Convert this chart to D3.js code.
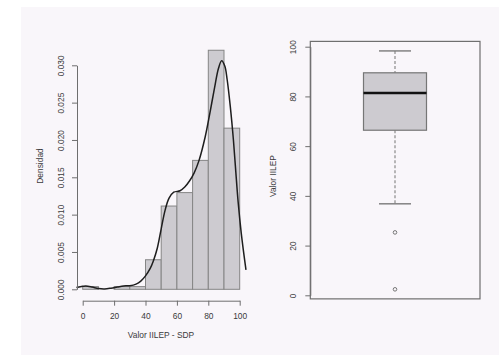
<!DOCTYPE html>
<html>
<head>
<meta charset="utf-8">
<script src="https://cdn.jsdelivr.net/npm/d3@7"></script>
<style>
  html, body { margin: 0; padding: 0; background: #ffffff; }
  svg { display: block; }
  text { font-family: "Liberation Sans", Arial, sans-serif; fill: #3a3a3a; }
</style>
</head>
<body>
<svg id="chart" width="499" height="355"></svg>
<script>
// Histogram: bin edges (width 10) and counts per bin
const binBreaks = [0, 10, 20, 30, 40, 50, 60, 70, 80, 90, 100];
const binCounts = [1, 0, 1, 1, 11, 31, 36, 48, 89, 60];

// Kernel density estimate, sampled along the value axis
const densityX = [-4, 0, 2, 6, 10, 14, 18, 22, 26, 30, 34, 37, 40, 43, 45, 47.5, 50, 52.5, 55, 58, 62, 65, 68, 71, 74, 78, 81, 84, 86.5, 88.5, 90.5, 92, 94, 96, 97.5, 99, 101, 104];
const densityY = [0.00025, 0.0004, 0.00045, 0.0003, 0.0001, 0.00005, 0.00015, 0.0003, 0.00045, 0.00048, 0.0007, 0.0011, 0.0018, 0.0028, 0.0038, 0.0055, 0.0081, 0.0106, 0.0122, 0.0130, 0.0132, 0.0137, 0.0145, 0.0156, 0.0172, 0.0204, 0.0236, 0.0270, 0.0296, 0.0306, 0.0299, 0.0281, 0.0245, 0.0200, 0.0158, 0.0117, 0.0075, 0.0026];

// Boxplot five-number summary and outliers
const boxStats = { lowerWhisker: 36.8, q1: 66.4, median: 81.4, q3: 89.5, upperWhisker: 98.3 };
const boxOutliers = [25.3, 2.4];

// Tick values
const histXTicks = [0, 20, 40, 60, 80, 100];
const histYTicks = [0, 0.005, 0.010, 0.015, 0.020, 0.025, 0.030];
const boxYTicks = [0, 20, 40, 60, 80, 100];

const svg = d3.select("#chart");
const lineCol = "#6e6e6e";
const fillCol = "#cdcbd0";
const fontSize = "8.4px";

// Plot background panel
svg.append("rect").attr("x", 21).attr("y", 7).attr("width", 478).attr("height", 348).attr("fill", "#f9f6fa");

// ---------- Left panel: histogram with density curve ----------
const hx = d3.scaleLinear().domain([0, 100]).range([82.7, 239.7]);
const hy = d3.scaleLinear().domain([0, 0.03]).range([289.3, 65.3]);
const total = d3.sum(binCounts);
const bins = binCounts.map((c, i) => ({
  x0: binBreaks[i], x1: binBreaks[i + 1],
  density: c / (total * (binBreaks[i + 1] - binBreaks[i]))
}));

svg.append("g").selectAll("rect").data(bins).join("rect")
  .attr("x", d => hx(d.x0))
  .attr("y", d => hy(d.density))
  .attr("width", d => hx(d.x1) - hx(d.x0))
  .attr("height", d => hy(0) - hy(d.density))
  .attr("fill", fillCol)
  .attr("stroke", "#858585")
  .attr("stroke-width", 1);

const densityLine = d3.line()
  .x((d, i) => hx(densityX[i]))
  .y(d => hy(d))
  .curve(d3.curveCatmullRom.alpha(0.5));
svg.append("path")
  .attr("d", densityLine(densityY))
  .attr("fill", "none")
  .attr("stroke", "#1e1e1e")
  .attr("stroke-width", 1.5);

// x axis
const hxAxis = svg.append("g").attr("transform", "translate(0,300.7)")
  .call(d3.axisBottom(hx).tickValues(histXTicks).tickSize(5).tickSizeOuter(0));
hxAxis.selectAll("text").attr("y", 18).attr("dy", 0).style("font-size", fontSize);

// y axis with rotated labels
const hyAxis = svg.append("g").attr("transform", "translate(77,0)")
  .call(d3.axisLeft(hy).tickValues(histYTicks).tickFormat(d3.format(".3f")).tickSize(5).tickSizeOuter(0));
hyAxis.selectAll("text")
  .attr("x", 0).attr("dy", 0)
  .attr("text-anchor", "middle")
  .attr("transform", "translate(-13,0) rotate(-90)")
  .style("font-size", fontSize);

svg.append("text").attr("x", 161).attr("y", 338).attr("text-anchor", "middle")
  .style("font-size", fontSize).text("Valor IILEP - SDP");
svg.append("text").attr("transform", "translate(43,166) rotate(-90)").attr("text-anchor", "middle")
  .style("font-size", fontSize).text("Densidad");

// ---------- Right panel: boxplot ----------
const allVals = [boxStats.lowerWhisker, boxStats.upperWhisker, ...boxOutliers];
const lo = d3.min(allVals), hi = d3.max(allVals), pad = (hi - lo) * 0.04;
const by = d3.scaleLinear().domain([0, 100]).range([295.3, 46.7]);
const frameL = 310.3, frameR = 480;
const cx = 395, halfBox = 31.5, halfCap = 16;

svg.append("rect")
  .attr("x", frameL).attr("y", by(hi + pad))
  .attr("width", frameR - frameL).attr("height", by(lo - pad) - by(hi + pad))
  .attr("fill", "none").attr("stroke", lineCol).attr("stroke-width", 1.2);

// whiskers
svg.append("line").attr("x1", cx).attr("x2", cx)
  .attr("y1", by(boxStats.upperWhisker)).attr("y2", by(boxStats.q3))
  .attr("stroke", "#8a8a8a").attr("stroke-width", 1.2).attr("stroke-dasharray", "3,2");
svg.append("line").attr("x1", cx).attr("x2", cx)
  .attr("y1", by(boxStats.q1)).attr("y2", by(boxStats.lowerWhisker))
  .attr("stroke", "#8a8a8a").attr("stroke-width", 1.2).attr("stroke-dasharray", "3,2");
[boxStats.upperWhisker, boxStats.lowerWhisker].forEach(v => {
  svg.append("line").attr("x1", cx - halfCap).attr("x2", cx + halfCap)
    .attr("y1", by(v)).attr("y2", by(v))
    .attr("stroke", "#7a7a7a").attr("stroke-width", 1.4);
});

// box and median
svg.append("rect")
  .attr("x", cx - halfBox).attr("y", by(boxStats.q3))
  .attr("width", halfBox * 2).attr("height", by(boxStats.q1) - by(boxStats.q3))
  .attr("fill", fillCol).attr("stroke", "#767676").attr("stroke-width", 1.2);
svg.append("line").attr("x1", cx - halfBox).attr("x2", cx + halfBox)
  .attr("y1", by(boxStats.median)).attr("y2", by(boxStats.median))
  .attr("stroke", "#111").attr("stroke-width", 2.4);

// outliers
svg.append("g").selectAll("circle").data(boxOutliers).join("circle")
  .attr("cx", cx).attr("cy", d => by(d)).attr("r", 1.8)
  .attr("fill", "none").attr("stroke", "#777").attr("stroke-width", 1);

const byAxis = svg.append("g").attr("transform", `translate(${frameL},0)`)
  .call(d3.axisLeft(by).tickValues(boxYTicks).tickSize(5).tickSizeOuter(0));
byAxis.selectAll("text")
  .attr("x", 0).attr("dy", 0)
  .attr("text-anchor", "middle")
  .attr("transform", "translate(-14,0) rotate(-90)")
  .style("font-size", fontSize);

svg.append("text").attr("transform", "translate(276,176) rotate(-90)").attr("text-anchor", "middle")
  .style("font-size", fontSize).text("Valor IILEP");

// axis styling
svg.selectAll(".domain, .tick line").attr("stroke", lineCol).attr("stroke-width", 1);
</script>
</body>
</html>
